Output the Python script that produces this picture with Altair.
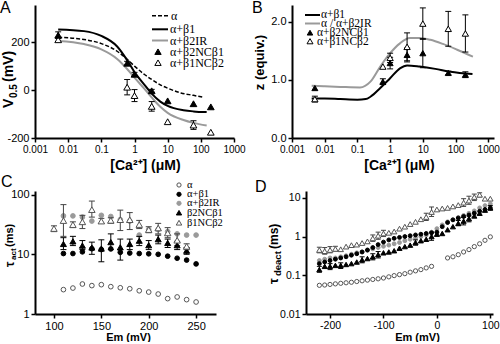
import altair as alt
import pandas as pd

SANS = "Liberation Sans"
SERIF = "Liberation Serif"
GRAY = "#9a9a9a"

# ---------------- Panel A : V0.5 vs [Ca2+] ----------------
A_alpha_ca = [0.005, 0.03, 0.1, 0.3, 0.6, 1, 2, 3.5, 6, 10, 25, 60, 120]
A_alpha_v = [220, 211, 194, 162, 128, 100, 65, 42, 22, 8, -12, -22, -30]
A_b1_ca = [0.005, 0.03, 0.1, 0.3, 0.6, 1, 2, 3.3, 6, 10, 30, 60, 150]
A_b1_v = [253, 246, 226, 182, 125, 75, 22, -15, -48, -66, -84, -89, -92]
A_ir_ca = [0.005, 0.03, 0.1, 0.3, 0.6, 1, 2, 3.5, 6, 10, 30, 60, 150]
A_ir_v = [205, 192, 170, 130, 88, 52, 5, -35, -70, -95, -125, -137, -148]
A_pts_ca = [0.005, 0.6, 1, 3.3, 10, 60, 200]
A_b2nc_v = [229, 112, 66, -3, -45, -57, -70]
A_b2nc_err = [14, 8, 8, 6, 0, 0, 0]
A_b1nc_v = [210, 12, -23, -68, -132, -146, -176]
A_b1nc_err = [8, 32, 25, 20, 0, 18, 0]

# ---------------- Panel B : z vs [Ca2+] ----------------
B_b1_ca = [0.004, 0.01, 0.03, 0.1, 0.18, 0.25, 0.5, 1, 2, 3.3, 8, 24, 70, 330]
B_b1_z = [0.68, 0.68, 0.67, 0.66, 0.67, 0.71, 0.86, 1.03, 1.20, 1.25, 1.23, 1.19, 1.14, 1.10]
B_ir_ca = [0.004, 0.01, 0.03, 0.12, 0.25, 0.5, 1, 2, 4, 8, 17, 41, 112, 340]
B_ir_z = [0.90, 0.89, 0.88, 0.87, 0.97, 1.23, 1.46, 1.63, 1.72, 1.72, 1.69, 1.62, 1.52, 1.40]
B_pts_ca = [0.005, 0.6, 1, 3.3, 10, 60, 200]
B_b2nc_z = [0.86, 0.97, 1.29, 1.43, 1.46, 1.12, 1.09]
B_b2nc_err = [0, 0.05, 0.10, 0.12, 0.25, 0.03, 0.05]
B_b1nc_z = [0.67, 1.23, 1.38, 1.57, 1.97, 1.88, 1.80]
B_b1nc_err = [0.05, 0, 0.08, 0.24, 0.27, 0.30, 0.32]

# ---------------- Panel C : tau_act vs Em ----------------
C_em15 = [110, 120, 130, 140, 150, 160, 170, 180, 190, 200, 210, 220, 230, 240, 250]
C_alpha = [2.56, 2.72, 3.18, 2.99, 3.10, 2.87, 2.75, 2.65, 2.45, 2.33, 2.16, 1.81, 1.93, 1.74, 1.59]
C_b1 = [10.3, 10.3, 11.0, 12.4, 12.0, 12.3, 10.8, 10.5, 10.3, 10.2, 10.0, 9.3, 8.6, 8.0, 6.9]
C_ir = [44, 44, 42, 36, 45, 43, 38, 36, 21, 26, 26, 24, 22, 21, 21]
C_em_b2nc = [110, 120, 130, 140, 150, 160, 170, 180, 190, 200, 210, 220, 230, 240]
C_b2nc = [14.9, 16.5, 14.0, 13.0, 12.5, 16.0, 13.1, 14.9, 16.9, 14.2, 17.9, 15.5, 14.2, 11.5]
C_b2nc_lo = [12, 14, 12, 10, 7.5, 12, 8, 12, 14, 12, 15, 13, 12, 10]
C_b2nc_hi = [19, 20, 17, 16, 17.5, 22, 18, 18, 20, 17, 21, 18, 16.5, 13]
C_em_b1nc = [100, 110, 120, 130, 140, 150, 160, 170, 180, 190, 200, 210, 220, 230, 240]
C_b1nc = [27, 36.7, 31.4, 35, 56, 36, 37, 38, 38, 31.5, 25.9, 27.6, 22.8, 17.2, 13.6]
C_b1nc_lo = [24, 20, 28, 27, 42, 33, 33, 25, 26, 27, 23, 22, 19, 14, 12]
C_b1nc_hi = [30, 68, 35, 45, 78, 40, 41, 55, 50, 37, 29, 33, 28, 22, 15]

# ---------------- Panel D : tau_deact vs Em ----------------
D_em = [-220, -210, -200, -190, -180, -170, -160, -150, -140, -130, -120, -110, -100,
        -90, -80, -70, -60, -50, -40, -30, -20, -10, 0, 10, 20, 30, 40, 50, 60, 70, 80, 90, 100]
D_em_alpha = [-220, -210, -200, -190, -180, -170, -160, -150, -140, -130, -120, -110, -100,
              -90, -80, -70, -60, -50, -40, -30, -20, -10, 20, 30, 40, 50, 60, 70, 80, 90, 100]
D_alpha = [0.055, 0.056, 0.058, 0.060, 0.062, 0.064, 0.066, 0.069, 0.072, 0.075, 0.078, 0.081,
           0.085, 0.091, 0.098, 0.104, 0.110, 0.120, 0.130, 0.140, 0.155, 0.170,
           0.28, 0.30, 0.34, 0.40, 0.46, 0.55, 0.65, 0.80, 0.98]
D_b1 = [0.20, 0.22, 0.24, 0.26, 0.28, 0.30, 0.33, 0.36, 0.40, 0.45, 0.52, 0.62, 0.72, 0.82,
        0.90, 0.95, 1.00, 1.05, 1.10, 1.15, 1.20, 1.25, 1.30, 1.8, 2.3, 2.7, 3.0, 3.3, 3.6,
        4.0, 4.5, 5.0, 5.5]
D_ir = [0.24, 0.26, 0.28, 0.28, 0.30, 0.32, 0.35, 0.38, 0.40, 0.44, 0.48, 0.52, 0.56, 0.60,
        0.65, 0.70, 0.78, 0.85, 0.92, 1.0, 1.1, 1.3, 1.6, 2.0, 2.4, 2.7, 3.1, 3.5, 4.0, 4.6,
        5.5, 6.3, 7.0]
D_b2nc = [0.14, 0.17, 0.17, 0.18, 0.18, 0.19, 0.20, 0.22, 0.25, 0.27, 0.30, 0.34, 0.38, 0.40,
          0.43, 0.50, 0.55, 0.60, 0.70, 0.78, 0.85, 1.00, 1.15, 1.2, 1.5, 1.8, 2.2, 2.5, 2.9,
          3.4, 4.0, 4.8, 5.5]
D_b1nc = [0.45, 0.42, 0.45, 0.48, 0.47, 0.55, 0.60, 0.62, 0.68, 0.75, 0.90, 1.05, 1.20, 1.25,
          1.35, 1.60, 1.80, 2.10, 2.40, 2.80, 3.20, 4.30, 5.00, 5.30, 5.50, 6.00, 6.50, 7.50,
          8.50, 10.5, 12.0, 9.5, 9.5]
D_eb1nc_em = [-220, -210, -200, -190, -120, -110, -100, -20, -10, 50, 60, 70, 80]
D_eb1nc_lo = [0.38, 0.35, 0.38, 0.42, 0.75, 0.85, 1.0, 2.6, 3.3, 6.0, 6.8, 8.5, 10.5]
D_eb1nc_hi = [0.53, 0.52, 0.55, 0.56, 1.1, 1.3, 1.45, 4.0, 5.8, 9.5, 11, 12.5, 13.5]
D_eb2nc_em = [-220, -200, -180, -140, -120, -110, -40, -10, 40, 50, 60, 100]
D_eb2nc_lo = [0.12, 0.14, 0.15, 0.21, 0.25, 0.28, 0.6, 0.8, 1.9, 2.0, 2.4, 4.8]
D_eb2nc_hi = [0.17, 0.20, 0.21, 0.30, 0.36, 0.41, 0.82, 1.3, 2.6, 3.1, 3.4, 6.3]

ONE = pd.DataFrame({"k": [0]})

AX_STYLE = dict(domainColor="black", domainWidth=2, tickColor="black", tickWidth=1.5,
                tickSize=4, labelColor="black", labelFont=SANS, grid=False,
                labelPadding=2, labelOverlap=False, labelFlush=False)


def txt(s, x, y, size, font=SANS, weight="normal", angle=0, align="left",
        baseline="middle", color="black"):
    return alt.Chart(ONE).mark_text(
        text=s, fontSize=size, font=font, fontWeight=weight, angle=angle,
        align=align, baseline=baseline, color=color
    ).encode(x=alt.value(x), y=alt.value(y))


def lrule(x1, x2, y, color, width, dash=None):
    kw = dict(color=color, strokeWidth=width)
    if dash:
        kw["strokeDash"] = dash
    return alt.Chart(ONE).mark_rule(**kw).encode(
        x=alt.value(x1), x2=alt.value(x2), y=alt.value(y))


def lsym(x, y, shape, size, fill, stroke, sw=1.0):
    return alt.Chart(ONE).mark_point(
        shape=shape, size=size, filled=True, fill=fill, stroke=stroke,
        strokeWidth=sw, opacity=1
    ).encode(x=alt.value(x), y=alt.value(y))


def line(xs_, ys_, xsc, ysc, color, width, dash=None):
    df = pd.DataFrame({"x": xs_, "y": ys_})
    kw = dict(color=color, strokeWidth=width, interpolate="monotone")
    if dash:
        kw["strokeDash"] = dash
    return alt.Chart(df).mark_line(**kw).encode(
        x=alt.X("x:Q", scale=xsc), y=alt.Y("y:Q", scale=ysc))


def pts(xs_, ys_, xsc, ysc, shape, size, fill, stroke, sw=1.0):
    df = pd.DataFrame({"x": xs_, "y": ys_})
    return alt.Chart(df).mark_point(
        shape=shape, size=size, filled=True, fill=fill, stroke=stroke,
        strokeWidth=sw, opacity=1
    ).encode(x=alt.X("x:Q", scale=xsc), y=alt.Y("y:Q", scale=ysc))


def axes(xs_, ys_, xsc, ysc, xaxis, yaxis):
    """Invisible layer that carries the two axes of a panel."""
    df = pd.DataFrame({"x": xs_, "y": ys_})
    return alt.Chart(df).mark_point(opacity=0, size=1).encode(
        x=alt.X("x:Q", scale=xsc, axis=xaxis),
        y=alt.Y("y:Q", scale=ysc, axis=yaxis))


def ebars(xs_, lo, hi, xsc, ysc, color="black", cap=6, sw=1.0):
    df = pd.DataFrame({"x": xs_, "y": lo, "hi": hi})
    df = df[df["hi"] > df["y"]]
    rule = alt.Chart(df).mark_rule(color=color, strokeWidth=sw).encode(
        x=alt.X("x:Q", scale=xsc), y=alt.Y("y:Q", scale=ysc), y2="hi:Q")
    c1 = alt.Chart(df).mark_tick(color=color, orient="horizontal", size=cap,
                                 thickness=sw, opacity=1).encode(
        x=alt.X("x:Q", scale=xsc), y=alt.Y("y:Q", scale=ysc))
    df2 = df.drop(columns=["y"]).rename(columns={"hi": "y"})
    c2 = alt.Chart(df2).mark_tick(color=color, orient="horizontal", size=cap,
                                  thickness=sw, opacity=1).encode(
        x=alt.X("x:Q", scale=xsc), y=alt.Y("y:Q", scale=ysc))
    return [rule, c1, c2]


LBL = "'' + datum.value"

# ================= Panel A =================
xsA = alt.Scale(type="log", domain=[0.001, 1000], nice=False)
ysA = alt.Scale(domain=[-200, 355], nice=False, zero=False)
axA_x = alt.Axis(values=[0.001, 0.01, 0.1, 1, 10, 100, 1000], labelExpr=LBL,
                 labelFontSize=10, title="[Ca²⁺] (μM)", titleFontSize=14,
                 titleFont=SANS, titleColor="black",
                 titleFontWeight="bold", titleX=110, titleY=27, titleAlign="center",
                 titleBaseline="middle", **AX_STYLE)
axA_y = alt.Axis(values=[-200, -100, 0, 100, 200, 300], labelExpr=LBL,
                 labelFontSize=11, title=None, **AX_STYLE)

A_layers = [
    axes(A_pts_ca, A_b2nc_v, xsA, ysA, axA_x, axA_y),
    line(A_alpha_ca, A_alpha_v, xsA, ysA, "black", 1.5, dash=[4, 2]),
    line(A_ir_ca, A_ir_v, xsA, ysA, GRAY, 2),
    line(A_b1_ca, A_b1_v, xsA, ysA, "black", 2),
]
A_layers += ebars(A_pts_ca, [v - e for v, e in zip(A_b1nc_v, A_b1nc_err)],
                  [v + e for v, e in zip(A_b1nc_v, A_b1nc_err)], xsA, ysA)
A_layers += ebars(A_pts_ca, [v - e for v, e in zip(A_b2nc_v, A_b2nc_err)],
                  [v + e for v, e in zip(A_b2nc_v, A_b2nc_err)], xsA, ysA)
A_layers += [
    pts(A_pts_ca, A_b1nc_v, xsA, ysA, "triangle-up", 45, "white", "black"),
    pts(A_pts_ca, A_b2nc_v, xsA, ysA, "triangle-up", 45, "black", "black"),
    lrule(117, 133, 10.7, "black", 1.5, dash=[4, 2]),
    lrule(117, 133, 24.3, "black", 2),
    lrule(117, 133, 35.5, GRAY, 2),
    lsym(123, 46.7, "triangle-up", 40, "black", "black"),
    lsym(123, 57.7, "triangle-up", 40, "white", "black"),
    txt("α", 136, 10.7, 12, font=SERIF),
    txt("α+β1", 135, 24.3, 12, font=SERIF),
    txt("α+β2IR", 135, 35.5, 12, font=SERIF),
    txt("α+β2NCβ1", 135, 46.7, 12, font=SERIF),
    txt("α+β1NCβ2", 135, 57.7, 12, font=SERIF),
    txt("V", -26.5, 103, 14, weight="bold", angle=270),
    txt("0.5", -21.5, 93, 10, weight="bold", angle=270),
    txt("(mV)", -26.5, 77, 14, weight="bold", angle=270),
    txt("A", -35, -5, 16, baseline="top"),
]
chartA = alt.layer(*A_layers).properties(width=199, height=133)

# ================= Panel B =================
xsB = alt.Scale(type="log", domain=[0.001, 1500], nice=False)
ysB = alt.Scale(domain=[0, 2.29], nice=False, zero=False)
axB_x = alt.Axis(values=[0.001, 0.01, 0.1, 1, 10, 100, 1000], labelExpr=LBL,
                 labelFontSize=10, title="[Ca²⁺] (μM)", titleFontSize=14,
                 titleFont=SANS, titleColor="black",
                 titleFontWeight="bold", titleX=107, titleY=27, titleAlign="center",
                 titleBaseline="middle", **AX_STYLE)
axB_y = alt.Axis(values=[0, 0.5, 1.0, 1.5, 2.0], format=".1f", labelFontSize=11,
                 title=None, **AX_STYLE)

B_layers = [
    axes(B_pts_ca, B_b2nc_z, xsB, ysB, axB_x, axB_y),
    line(B_ir_ca, B_ir_z, xsB, ysB, GRAY, 2),
    line(B_b1_ca, B_b1_z, xsB, ysB, "black", 2),
]
B_layers += ebars(B_pts_ca, [v - e for v, e in zip(B_b1nc_z, B_b1nc_err)],
                  [v + e for v, e in zip(B_b1nc_z, B_b1nc_err)], xsB, ysB)
B_layers += ebars(B_pts_ca, [v - e for v, e in zip(B_b2nc_z, B_b2nc_err)],
                  [v + e for v, e in zip(B_b2nc_z, B_b2nc_err)], xsB, ysB)
B_layers += [
    pts(B_pts_ca, B_b1nc_z, xsB, ysB, "triangle-up", 40, "white", "black"),
    pts(B_pts_ca, B_b2nc_z, xsB, ysB, "triangle-up", 36, "black", "black"),
    lrule(13, 28, 10, "black", 2),
    lrule(13, 28, 18.5, GRAY, 2),
    lsym(18, 27.7, "triangle-up", 30, "black", "black"),
    lsym(18, 36.2, "triangle-up", 36, "white", "black"),
    txt("α+β1", 29, 10, 11.5, font=SERIF),
    txt("α / α+β2IR", 29, 18.5, 11.5, font=SERIF),
    txt("α+β2NCβ1", 25, 27.5, 11.5, font=SERIF),
    txt("α+β1NCβ2", 25, 36.5, 11.5, font=SERIF),
    txt("z (equiv.)", -32, 57.5, 13, weight="bold", angle=270, align="center"),
    txt("B", -40, -5, 16, baseline="top"),
]
chartB = alt.layer(*B_layers).properties(width=202, height=133)

# ================= Panel C =================
xsC = alt.Scale(domain=[80, 271], nice=False, zero=False)
ysC = alt.Scale(type="log", domain=[1, 115], nice=False)
axC_x = alt.Axis(values=[100, 150, 200, 250], labelExpr=LBL, labelFontSize=11,
                 title="Em (mV)", titleFontSize=11, titleFontWeight="bold",
                 titleFont=SANS, titleColor="black",
                 titleX=93, titleY=23, titleAlign="center", titleBaseline="middle",
                 **AX_STYLE)
axC_y = alt.Axis(values=[1, 10, 100], labelExpr=LBL, labelFontSize=11, title=None,
                 **AX_STYLE)

C_layers = [
    axes(C_em15, C_b1, xsC, ysC, axC_x, axC_y),
    pts(C_em15, C_ir, xsC, ysC, "circle", 22, GRAY, GRAY),
    pts(C_em15, C_alpha, xsC, ysC, "circle", 22, "white", "#555555"),
    pts(C_em15, C_b1, xsC, ysC, "circle", 22, "black", "black"),
]
C_layers += ebars(C_em_b2nc, C_b2nc_lo, C_b2nc_hi, xsC, ysC, cap=6)
C_layers += ebars(C_em_b1nc, C_b1nc_lo, C_b1nc_hi, xsC, ysC, color="#444444", cap=6)
C_layers += [
    pts(C_em_b2nc, C_b2nc, xsC, ysC, "triangle-up", 36, "black", "black"),
    pts(C_em_b1nc, C_b1nc, xsC, ysC, "triangle-up", 42, "white", "#555555"),
    lsym(144, -6, "circle", 18, "white", "#555555"),
    lsym(144, 3.3, "circle", 18, "black", "black"),
    lsym(144, 12.3, "circle", 18, GRAY, GRAY),
    lsym(144, 21.7, "triangle-up", 28, "black", "black"),
    lsym(144, 31.7, "triangle-up", 30, "white", "#555555"),
    txt("α", 152, -6, 10.5, font=SERIF),
    txt("α+β1", 152, 3.3, 10.5, font=SERIF),
    txt("α+β2IR", 152, 12.3, 10.5, font=SERIF),
    txt("β2NCβ1", 152, 21.7, 10.5, font=SERIF),
    txt("β1NCβ2", 152, 31.7, 10.5, font=SERIF),
    txt("τ", -25, 76, 12, weight="bold", angle=270),
    txt("act", -21, 69, 8, weight="bold", angle=270),
    txt("(ms)", -25, 56, 11, weight="bold", angle=270),
    txt("C", -34, -17, 16, baseline="top"),
]
chartC = alt.layer(*C_layers).properties(width=181, height=123)

# ================= Panel D =================
xsD = alt.Scale(domain=[-245, 105], nice=False, zero=False)
ysD = alt.Scale(type="log", domain=[0.01, 15], nice=False)
axD_x = alt.Axis(values=[-200, -100, 0, 100], labelExpr=LBL, labelFontSize=10.5,
                 title="Em (mV)", titleFontSize=11, titleFontWeight="bold",
                 titleFont=SANS, titleColor="black",
                 titleX=111, titleY=23, titleAlign="center", titleBaseline="middle",
                 **AX_STYLE)
axD_y = alt.Axis(values=[0.01, 0.1, 1, 10], labelExpr=LBL, labelFontSize=10.5, title=None,
                 **AX_STYLE)

D_layers = [
    axes(D_em, D_b1, xsD, ysD, axD_x, axD_y),
    pts(D_em_alpha, D_alpha, xsD, ysD, "circle", 18, "white", "#555555"),
    pts(D_em, D_ir, xsD, ysD, "circle", 15, GRAY, GRAY),
    pts(D_em, D_b1, xsD, ysD, "circle", 15, "black", "black"),
]
D_layers += ebars(D_eb2nc_em, D_eb2nc_lo, D_eb2nc_hi, xsD, ysD, cap=5)
D_layers += ebars(D_eb1nc_em, D_eb1nc_lo, D_eb1nc_hi, xsD, ysD, color="#444444", cap=5)
D_layers += [
    pts(D_em, D_b2nc, xsD, ysD, "triangle-up", 26, "black", "black"),
    pts(D_em, D_b1nc, xsD, ysD, "triangle-up", 30, "white", "#555555"),
    txt("τ", -32, 93, 13, weight="bold", angle=270),
    txt("deact", -28, 85, 9.5, weight="bold", angle=270),
    txt("(ms)", -32, 58, 12, weight="bold", angle=270),
    txt("D", -51, -12, 16, baseline="top"),
]
chartD = alt.layer(*D_layers).properties(width=187, height=123)

top = alt.hconcat(chartA, chartB, spacing=58, bounds="flush")
bottom = alt.hconcat(chartC, chartD, spacing=90, bounds="flush")
chart = alt.vconcat(top, bottom, spacing=2).properties(
    padding={"left": 0, "top": 0, "right": 0, "bottom": 0}
).configure_view(stroke=None)

chart.save("out.html", embed_options={"renderer": "svg", "actions": False})
